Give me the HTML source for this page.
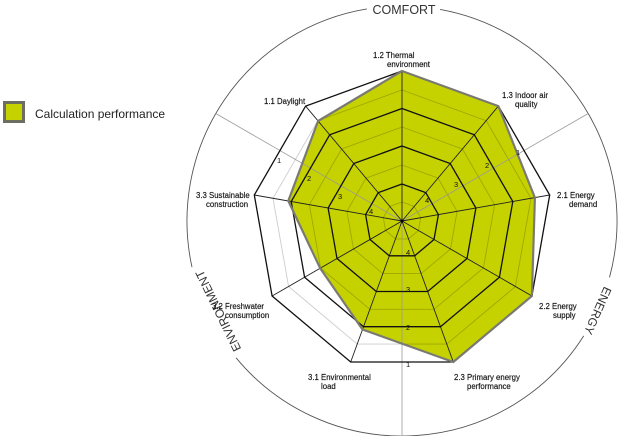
<!DOCTYPE html>
<html><head><meta charset="utf-8"><style>
html,body{margin:0;padding:0;background:#fff;}
svg{display:block;}
text{font-family:"Liberation Sans",sans-serif;}
.lb{font-size:7.8px;fill:#111;stroke:#111;stroke-width:0.15;}
.nm{font-size:7.5px;fill:#111;}
</style></head><body>
<svg width="618" height="436" viewBox="0 0 618 436" xmlns="http://www.w3.org/2000/svg">
<g fill="none" stroke="#555" stroke-width="0.9">
<path d="M440.1,9.4 A215,215 0 0 1 609.5,277.4"/>
<path d="M583.7,335.9 A215,215 0 0 1 236.1,357.8"/>
<path d="M192,267.2 A215,215 0 0 1 366.9,8.9"/>
</g>
<text x="404" y="14" text-anchor="middle" font-size="12.5" fill="#333">COMFORT</text>
<text transform="translate(594,309) rotate(114)" text-anchor="middle" font-size="12" fill="#333">ENERGY</text>
<text transform="translate(222,309) rotate(-116)" text-anchor="middle" font-size="12" fill="#333">ENVIRONMENT</text>

<g transform="translate(402,221)">
<polygon points="0,-150 96.4,-114.9 132.9,-23.4 129.9,75 51.3,141 -39.5,108.5 -81.8,47.3 -113.7,-20.1 -83.9,-100" fill="#c5d200"/>
<g fill="none" stroke="#000" stroke-opacity="0.2" stroke-width="0.9">
<polygon points="0,-131 84.2,-100.3 129,-22.7 113.4,65.5 44.8,123.1 -44.8,123.1 -113.4,65.5 -129,-22.7 -84.2,-100.3"/>
<polygon points="0,-94 60.4,-72 92.6,-16.3 81.4,47 32.1,88.3 -32.1,88.3 -81.4,47 -92.6,-16.3 -60.4,-72"/>
<polygon points="0,-56 36,-42.9 55.1,-9.7 48.5,28 19.2,52.6 -19.2,52.6 -48.5,28 -55.1,-9.7 -36,-42.9"/>
<polygon points="0,-19 12.2,-14.6 18.7,-3.3 16.5,9.5 6.5,17.9 -6.5,17.9 -16.5,9.5 -18.7,-3.3 -12.2,-14.6"/>
</g>
<g stroke="#999" stroke-width="0.8">
<line x1="0" y1="0" x2="186.2" y2="-107.5"/>
<line x1="0" y1="0" x2="0" y2="215"/>
<line x1="0" y1="0" x2="-186.2" y2="-107.5"/>
</g>
<g stroke="#222" stroke-width="0.9">
<line x1="0" y1="0" x2="0" y2="-150"/>
<line x1="0" y1="0" x2="96.4" y2="-114.9"/>
<line x1="0" y1="0" x2="147.7" y2="-26"/>
<line x1="0" y1="0" x2="129.9" y2="75"/>
<line x1="0" y1="0" x2="51.3" y2="141"/>
<line x1="0" y1="0" x2="-51.3" y2="141"/>
<line x1="0" y1="0" x2="-129.9" y2="75"/>
<line x1="0" y1="0" x2="-147.7" y2="-26"/>
<line x1="0" y1="0" x2="-96.4" y2="-114.9"/>
</g>
<g fill="none" stroke="#111" stroke-width="1.3">
<polygon points="0,-150 96.4,-114.9 147.7,-26 129.9,75 51.3,141 -51.3,141 -129.9,75 -147.7,-26 -96.4,-114.9"/>
<polygon points="0,-112.5 72.3,-86.2 110.8,-19.5 97.4,56.3 38.5,105.7 -38.5,105.7 -97.4,56.3 -110.8,-19.5 -72.3,-86.2"/>
<polygon points="0,-75 48.2,-57.5 73.9,-13 65,37.5 25.7,70.5 -25.7,70.5 -65,37.5 -73.9,-13 -48.2,-57.5"/>
<polygon points="0,-37 23.8,-28.3 36.4,-6.4 32,18.5 12.7,34.8 -12.7,34.8 -32,18.5 -36.4,-6.4 -23.8,-28.3"/>
</g>
<polygon points="0,-150 96.4,-114.9 132.9,-23.4 129.9,75 51.3,141 -39.5,108.5 -81.8,47.3 -113.7,-20.1 -83.9,-100" fill="none" stroke="#7a7a72" stroke-width="2.2" stroke-linejoin="round"/>
<circle cx="0" cy="0" r="1.5" fill="#000"/>
<g class="nm">
<text x="114" y="-66">1</text><text x="83" y="-53">2</text><text x="52" y="-34">3</text><text x="23" y="-18">4</text>
<text x="4" y="146">1</text><text x="4" y="109">2</text><text x="4" y="71">3</text><text x="4" y="34">4</text>
<text x="-125" y="-58">1</text><text x="-95" y="-40">2</text><text x="-64" y="-22">3</text><text x="-33" y="-7">4</text>
</g>
</g>

<g class="lb">
<text x="373" y="58">1.2 Thermal</text><text x="387" y="67">environment</text>
<text x="502" y="98">1.3 Indoor air</text><text x="515" y="107">quality</text>
<text x="264" y="104">1.1 Daylight</text>
<text x="557" y="198">2.1 Energy</text><text x="569" y="207">demand</text>
<text x="539" y="309">2.2 Energy</text><text x="553" y="318">supply</text>
<text x="454" y="380">2.3 Primary energy</text><text x="467" y="389">performance</text>
<text x="308" y="380">3.1 Environmental</text><text x="321" y="389">load</text>
<text x="212" y="309">3.2 Freshwater</text><text x="225" y="318">consumption</text>
<text x="196" y="198">3.3 Sustainable</text><text x="206" y="207">construction</text>
</g>

<rect x="4.5" y="102.5" width="19" height="19" fill="#c5d200" stroke="#6e6e60" stroke-width="3"/>
<text x="35" y="118" font-size="12" fill="#222">Calculation performance</text>
</svg>
</body></html>
